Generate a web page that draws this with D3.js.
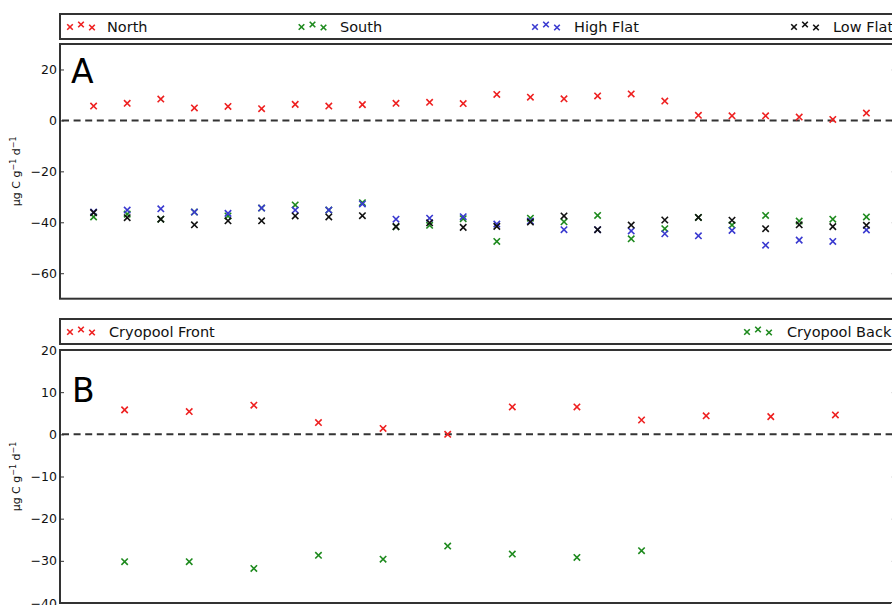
<!DOCTYPE html>
<html><head><meta charset="utf-8">
<script src="https://cdn.jsdelivr.net/npm/d3@7"></script>
<style>
html,body{margin:0;padding:0;background:#fff;}
svg{display:block;font-family:"DejaVu Sans",sans-serif;}
</style></head>
<body>
<svg id="chart" width="892" height="605"></svg>
<script>
// ---------- data ----------
const sitesA = ["North", "South", "High Flat", "Low Flat"];
const northA = [5.65, 6.7, 8.4, 4.9, 5.5, 4.6, 6.3, 5.65, 6.2, 6.7, 7.1, 6.6, 10.2, 9.1, 8.5, 9.6, 10.4, 7.6, 2.0, 1.8, 1.8, 1.3, 0.4, 2.9];
const southA = [-37.9, -36.8, -38.8, -36.0, -37.5, -34.4, -33.2, -35.2, -32.3, -41.7, -41.2, -38.6, -47.5, -38.4, -39.8, -37.3, -46.5, -42.5, -38.1, -41.1, -37.3, -39.5, -38.8, -37.9];
const highFlatA = [-36.0, -35.2, -34.7, -36.0, -36.5, -34.4, -35.2, -35.2, -32.8, -38.8, -38.4, -37.8, -40.7, -39.5, -42.9, -42.9, -43.4, -44.5, -45.3, -43.2, -49.0, -47.0, -47.5, -43.0];
const lowFlatA = [-36.2, -38.2, -38.8, -41.0, -39.4, -39.4, -37.5, -37.9, -37.4, -41.7, -40.2, -42.0, -41.6, -39.9, -37.5, -42.9, -41.1, -39.1, -38.1, -39.2, -42.5, -41.0, -41.7, -41.2];
const sitesB = ["Cryopool Front", "Cryopool Back"];
const frontB = [5.8, 5.4, 6.9, 2.8, 1.4, 0.0, 6.5, 6.5, 3.4, 4.4, 4.2, 4.6];
const backB = [-30.2, -30.2, -31.8, -28.7, -29.6, -26.5, -28.4, -29.2, -27.6];
const ticksA = [-60, -40, -20, 0, 20];
const ticksB = [-40, -30, -20, -10, 0, 10, 20];
const domainA = [-70, 30];
const domainB = [-40, 20];

// ---------- styles ----------
const colors = {"North":"#ee2020","South":"#1e8a1e","High Flat":"#3a3ad0","Low Flat":"#111111",
                "Cryopool Front":"#ee2020","Cryopool Back":"#1e8a1e"};

const svg = d3.select("#chart");
const L = 60, R = 900;

function cross(g, x, y, col, s) {
  g.append("path")
    .attr("d", `M${x-s},${y-s}L${x+s},${y+s}M${x-s},${y+s}L${x+s},${y-s}`)
    .attr("stroke", col).attr("stroke-width", 1.6).attr("fill", "none");
}

function panel(cfg) {
  const g = svg.append("g");
  // legend box
  g.append("rect").attr("x", L).attr("y", cfg.legTop).attr("width", R - L + 20).attr("height", cfg.legH)
    .attr("fill", "#fff").attr("stroke", "#333").attr("stroke-width", 2);
  cfg.names.forEach((n, i) => {
    const mx = cfg.legX[i];
    const cy = cfg.legTop + cfg.legH / 2 - 0.5;
    const offs = [1, -1.5, 1.5];
    offs.forEach((o, k) => cross(g, mx + k * 11, cy + o, colors[n], 2.8));
    g.append("text").attr("x", cfg.legText[i]).attr("y", cfg.legTop + cfg.legH / 2 + 5.3)
      .attr("font-size", 14.5).attr("fill", "#111").text(n);
  });

  const y = d3.scaleLinear().domain(cfg.domain).range([cfg.bottom, cfg.top]);
  const x = d3.scaleLinear().domain([0, cfg.n + 1]).range([L, R]);

  // frame
  g.append("rect").attr("x", L).attr("y", cfg.top).attr("width", R - L).attr("height", cfg.bottom - cfg.top)
    .attr("fill", "#fff").attr("stroke", "#333").attr("stroke-width", 2);

  // y axis
  const ax = g.append("g").attr("transform", `translate(${L},0)`)
    .call(d3.axisLeft(y).tickValues(cfg.ticks).tickSizeInner(-4).tickSizeOuter(0).tickPadding(3).tickFormat(d3.format("d")));
  ax.select(".domain").remove();
  ax.selectAll("line").attr("stroke", "#333");
  ax.selectAll("text").attr("font-size", 12.5).attr("font-family", "DejaVu Sans").attr("fill", "#111");
  const axr = g.append("g").attr("transform", `translate(${R},0)`)
    .call(d3.axisRight(y).tickValues(cfg.ticks).tickSizeInner(-9).tickSizeOuter(0).tickFormat(""));
  axr.select(".domain").remove();
  axr.selectAll("line").attr("stroke", "#ddd");

  // zero line
  g.append("line").attr("x1", L + 2).attr("x2", R).attr("y1", y(0)).attr("y2", y(0))
    .attr("stroke", "#333").attr("stroke-width", 2).attr("stroke-dasharray", "7,4.6");

  // series
  cfg.series.forEach((s) => {
    s.values.forEach((v, i) => cross(g, x(i + 1), y(v), colors[s.name], 3.2));
  });

  // panel letter
  g.append("text").attr("x", cfg.letterX).attr("y", cfg.letterY).attr("font-size", 33).attr("fill", "#000").text(cfg.letter);

  // y label
  const cy = (cfg.top + cfg.bottom) / 2;
  const t = g.append("text").attr("transform", `translate(20,${cy}) rotate(-90)`)
    .attr("text-anchor", "middle").attr("font-size", 11).attr("fill", "#111");
  t.append("tspan").text("\u03bcg C g");
  t.append("tspan").attr("dy", -4).attr("font-size", 8).text("\u22121");
  t.append("tspan").attr("dy", 4).text(" d");
  t.append("tspan").attr("dy", -4).attr("font-size", 8).text("\u22121");
}

panel({
  names: sitesA, legTop: 14, legH: 25, legX: [70, 301.5, 535, 794], legText: [107, 340, 574, 833],
  top: 44, bottom: 298.7, domain: domainA, ticks: ticksA, n: northA.length,
  series: [{name:"North",values:northA},{name:"South",values:southA},{name:"High Flat",values:highFlatA},{name:"Low Flat",values:lowFlatA}],
  letter: "A", letterX: 71, letterY: 83
});
panel({
  names: sitesB, legTop: 319, legH: 25, legX: [70, 747], legText: [109, 787],
  top: 350, bottom: 603, domain: domainB, ticks: ticksB, n: frontB.length,
  series: [{name:"Cryopool Front",values:frontB},{name:"Cryopool Back",values:backB}],
  letter: "B", letterX: 72, letterY: 402
});
</script>
</body></html>
